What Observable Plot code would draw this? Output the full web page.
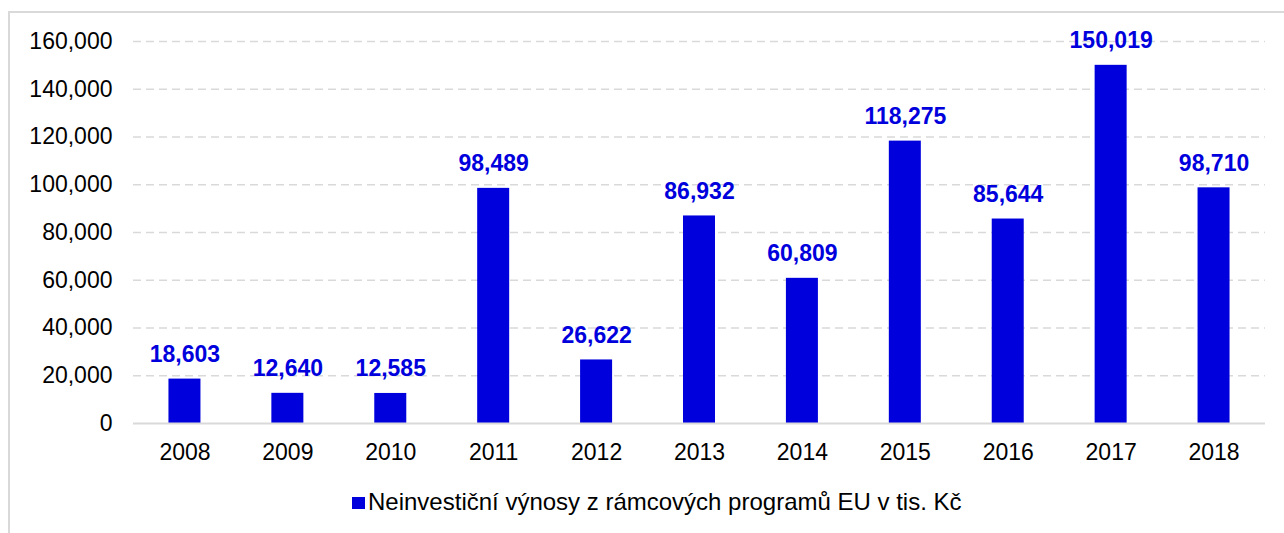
<!DOCTYPE html>
<html>
<head>
<meta charset="utf-8">
<script src="https://cdn.jsdelivr.net/npm/d3@7"></script>
<script src="https://cdn.jsdelivr.net/npm/@observablehq/plot@0.6"></script>
<style>
  html, body { margin: 0; padding: 0; background: #fff; }
  #wrap { position: relative; width: 1284px; height: 533px; overflow: hidden; font-family: "Liberation Sans", Arial, sans-serif; }
  #frame { position: absolute; left: 8px; top: 11px; width: 1400px; height: 700px; border-left: 2px solid #d9d9d9; border-top: 2px solid #d9d9d9; }
  #chart { position: relative; }
  #chart svg { display: block; }
  #legend { position: relative; display: flex; align-items: flex-start; margin-left: 352px; margin-top: 10px; font-size: 24px; line-height: 24px; color: #000; }
  #legend .sw { width: 13px; height: 12px; background: #0000dd; margin-top: 7px; margin-right: 3px; flex: none; }
</style>
</head>
<body>
<div id="wrap">
  <div id="frame"></div>
  <div id="chart"></div>
  <div id="legend"><span class="sw"></span><span id="legendText"></span></div>
</div>
<script>
const years = ["2008","2009","2010","2011","2012","2013","2014","2015","2016","2017","2018"];
const values = [18603, 12640, 12585, 98489, 26622, 86932, 60809, 118275, 85644, 150019, 98710];
const yTicks = [0, 20000, 40000, 60000, 80000, 100000, 120000, 140000, 160000];
const seriesName = "Neinvestiční výnosy z rámcových programů EU v tis. Kč";
const barColor = "#0000dd";

const data = years.map((y, i) => ({year: y, value: values[i]}));
const fmt = d3.format(",");

const chart = Plot.plot({
  width: 1284,
  height: 480,
  marginLeft: 133,
  marginRight: 19,
  marginTop: 41,
  marginBottom: 57,
  style: {fontFamily: "'Liberation Sans', Arial, sans-serif", fontSize: "23px", color: "#000", background: "transparent", overflow: "visible"},
  x: {domain: years, paddingInner: 0.689, paddingOuter: 0.3445, round: false},
  y: {domain: [0, 160000]},
  marks: [
    Plot.ruleY(yTicks.filter(d => d > 0), {stroke: "#d9d9d9", strokeWidth: 1.5, strokeDasharray: "8,5"}),
    Plot.barY(data, {x: "year", y: "value", fill: barColor}),
    Plot.ruleY([0], {stroke: "#d9d9d9", strokeWidth: 2}),
    Plot.axisY(yTicks, {tickSize: 0, tickPadding: 21, tickFormat: fmt, label: null, fontSize: 23}),
    Plot.axisX(years, {tickSize: 0, tickPadding: 20, label: null, fontSize: 23}),
    Plot.text(data, {x: "year", y: "value", text: d => fmt(d.value), lineAnchor: "bottom", dy: -17, fill: barColor, fontWeight: "bold", fontSize: 23})
  ]
});
document.getElementById("chart").appendChild(chart);
document.getElementById("legendText").textContent = seriesName;
</script>
</body>
</html>
